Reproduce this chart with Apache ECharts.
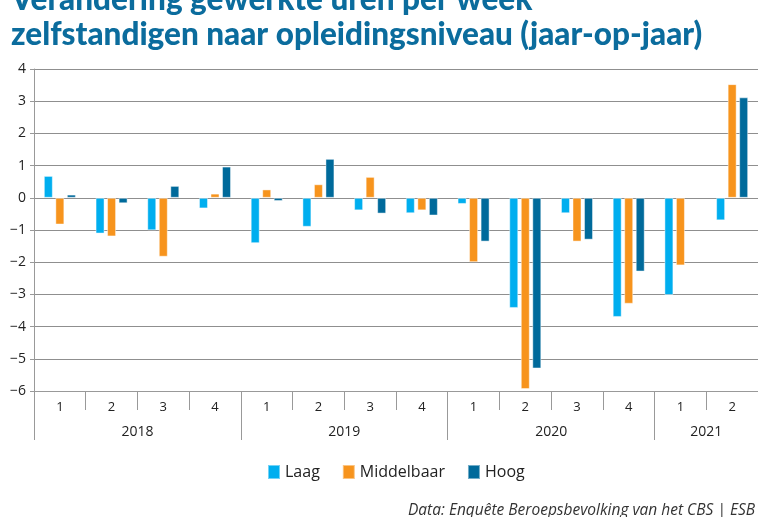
<!DOCTYPE html>
<html><head><meta charset="utf-8">
<script src="https://cdn.jsdelivr.net/npm/echarts@6/dist/echarts.min.js"></script>
<style>html,body{margin:0;padding:0;background:#fff}#c{width:758px;height:517px}</style>
</head><body><div id="c"></div>
<script>
const quarters = ['1','2','3','4','1','2','3','4','1','2','3','4','1','2'];
const years = ['2018','2019','2020','2021'];
const yearQuarters = [4, 4, 4, 2];
const laag = [0.68,-1.11,-1.01,-0.33,-1.41,-0.90,-0.39,-0.48,-0.19,-3.42,-0.48,-3.70,-3.02,-0.70];
const middelbaar = [-0.83,-1.20,-1.83,0.13,0.26,0.42,0.65,-0.39,-2.00,-5.94,-1.36,-3.29,-2.10,3.53];
const hoog = [0.10,-0.17,0.37,0.97,-0.10,1.21,-0.49,-0.55,-1.36,-5.30,-1.30,-2.29,null,3.12];
const yTicks = {min: -6, max: 4, interval: 1};

// year axis: half-quarter positions (boundaryGap false)
const yearSlots = [];
const yearBounds = new Set([0]);
let pos = 0;
const total = quarters.length * 2;
for (let i = 0; i <= total; i++) yearSlots.push('');
yearQuarters.forEach((n, i) => {
  yearSlots[pos + n] = years[i];
  pos += n * 2;
  yearBounds.add(pos);
});

const font = 'Open Sans';
const chart = echarts.init(document.getElementById('c'));
const barStyle = (c) => ({color: c, borderColor: 'rgba(255,255,255,0.45)', borderWidth: 1});
chart.setOption({
  animation: false,
  title: [{
    text: 'Verandering gewerkte uren per week\nzelfstandigen naar opleidingsniveau (jaar-op-jaar)',
    left: 6, top: -23,
    textStyle: {fontFamily: 'Lato', fontWeight: 900, fontSize: 31.5, lineHeight: 35, color: '#0b6c9d'}
  }, {
    text: 'Data: Enquête Beroepsbevolking van het CBS | ESB',
    left: 403, top: 498,
    textStyle: {fontFamily: font, fontStyle: 'italic', fontWeight: 'normal', fontSize: 15.5, color: '#333'}
  }],
  legend: {
    left: 262, top: 459, icon: 'rect', itemWidth: 12, itemHeight: 14, itemGap: 22,
    textStyle: {fontFamily: font, fontSize: 16, color: '#222'},
    data: ['Laag', 'Middelbaar', 'Hoog']
  },
  grid: {left: 34, right: -1, top: 69, bottom: 126},
  xAxis: [{
    type: 'category', data: quarters, position: 'bottom',
    axisLine: {show: true, onZero: false, lineStyle: {color: '#999', width: 1}},
    axisTick: {show: true, length: 19, lineStyle: {color: '#999'}},
    axisLabel: {margin: 10, fontFamily: font, fontSize: 13, color: '#222'}
  }, {
    type: 'category', data: yearSlots, boundaryGap: false, position: 'bottom',
    axisLine: {show: false, onZero: false},
    axisTick: {show: true, length: 49, interval: (i) => yearBounds.has(i), lineStyle: {color: '#999'}},
    axisLabel: {margin: 34, interval: (i, v) => v !== '', fontFamily: font, fontSize: 14, color: '#222'}
  }],
  yAxis: {
    type: 'value', min: yTicks.min, max: yTicks.max, interval: yTicks.interval,
    axisLine: {show: true, lineStyle: {color: '#999'}},
    axisTick: {show: true, length: 4, lineStyle: {color: '#999'}},
    splitLine: {lineStyle: {color: '#8f8f8f', width: 1}},
    axisLabel: {margin: 8, fontFamily: font, fontSize: 14, color: '#222', formatter: (v) => String(v).replace('-', '\u2212')}
  },
  series: [
    {name: 'Laag', type: 'bar', data: laag, barWidth: 9, barGap: '28%', itemStyle: barStyle('#00aeef')},
    {name: 'Middelbaar', type: 'bar', data: middelbaar, barWidth: 9, barGap: '28%', itemStyle: barStyle('#f7941d')},
    {name: 'Hoog', type: 'bar', data: hoog, barWidth: 9, barGap: '28%', itemStyle: barStyle('#006a9b')}
  ]
});
</script></body></html>
